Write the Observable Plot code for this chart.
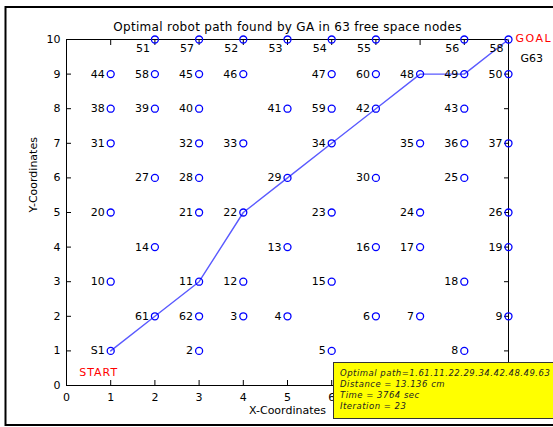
<!DOCTYPE html>
<html>
<head>
<meta charset="utf-8">
<script src="https://cdn.jsdelivr.net/npm/d3@7"></script>
<script src="https://cdn.jsdelivr.net/npm/@observablehq/plot@0.6"></script>
<style>
  html, body { margin: 0; padding: 0; background: white; }
  #chart svg { display: block; }
</style>
</head>
<body>
<div id="chart"></div>
<script>
// ---- data ----
const nodeX = [1,3,4,5,6,7,8,9,10,1, 3,4,5,2,6,7,8,9,10,1, 3,4,6,8,9,10,2,3,5,7, 1,3,4,6,8,9,10,1,2,3, 5,7,9,1,3,4,6,8,9,10, 2,4,5,6,7,9,3,2,6,7, 2,3,10];
const nodeY = [1,1,2,2,1,2,2,1,2,3, 3,3,4,4,3,4,4,3,4,5, 5,5,5,5,6,5,6,6,6,6, 7,7,7,7,7,7,7,8,8,8, 8,8,8,9,9,9,9,9,9,9, 10,10,10,10,10,10,10,9,8,9, 2,2,10];
const nodeLabels = ["S1","2","3","4","5","6","7","8","9","10","11","12","13","14","15","16","17","18","19","20",
  "21","22","23","24","25","26","27","28","29","30","31","32","33","34","35","36","37","38","39","40",
  "41","42","43","44","45","46","47","48","49","50","51","52","53","54","55","56","57","58","59","60",
  "61","62","58"];
const pathIds = [1,61,11,22,29,34,42,48,49,63];
const xTicks = [0,1,2,3,4,5,6,7,8,9,10];
const xTickLabels = [0,1,2,3,4,5,6]; // 7–10 are hidden under the annotation box
const yTicks = [0,1,2,3,4,5,6,7,8,9,10];
const titleText = "Optimal robot path found by GA in 63 free space nodes";
const xLabel = "X-Coordinates";
const yLabel = "Y-Coordinates";
const startText = "START";
const goalText = "GOAL";
const goalId = "G63";
const infoLines = [
  "Optimal path=1.61.11.22.29.34.42.48.49.63",
  "Distance = 13.136 cm",
  "Time = 3764 sec",
  "Iteration = 23"
];

// ---- build ----
const nodes = nodeX.map((x, i) => ({x, y: nodeY[i], label: nodeLabels[i], id: i + 1}));
const pathNodes = pathIds.map(id => nodes[id - 1]);
const topRow = nodes.filter(d => d.y === 10);
const otherRows = nodes.filter(d => d.y !== 10);
const startNode = [nodes[0]];
const goalNode = [nodes[62]];

const font = "DejaVu Sans";

const chart = Plot.plot({
  width: 553,
  height: 427,
  marginLeft: 66,
  marginRight: 45,
  marginTop: 39,
  marginBottom: 42,
  x: {domain: [0, 10]},
  y: {domain: [0, 10]},
  style: {fontFamily: font, fontSize: "11px", background: "white", color: "black", overflow: "visible"},
  marks: [
    Plot.axisX(xTicks, {anchor: "bottom", tickSize: -5, text: null, label: null}),
    Plot.axisX(xTickLabels, {anchor: "bottom", tickSize: 0, tickPadding: 8, label: null, fontSize: 11}),
    Plot.axisX(xTicks, {anchor: "top", tickSize: -5, text: null, label: null}),
    Plot.axisY(yTicks, {anchor: "left", tickSize: -5, tickPadding: 11, label: null, fontSize: 11}),
    Plot.axisY(yTicks, {anchor: "right", tickSize: -5, text: null, label: null}),
    Plot.frame({stroke: "black", strokeWidth: 1}),
    Plot.line(pathNodes, {x: "x", y: "y", stroke: "#5a5aff", strokeWidth: 1.4}),
    Plot.dot(nodes, {x: "x", y: "y", r: 3.5, stroke: "#0000ff", strokeWidth: 1.3, fill: "none"}),
    Plot.text(otherRows, {x: "x", y: "y", text: "label", textAnchor: "end", dx: -6, dy: 0, fontSize: 11, fill: "black"}),
    Plot.text(topRow, {x: "x", y: "y", text: "label", textAnchor: "end", dx: -5, dy: 9, fontSize: 11, fill: "black"}),
    Plot.text(startNode, {x: "x", y: "y", text: () => startText, dx: -12, dy: 22, fill: "red", fontSize: 11}),
    Plot.text(goalNode, {x: "x", y: "y", text: () => goalText, textAnchor: "start", dx: 7, dy: -1, fill: "red", fontSize: 11}),
    Plot.text(goalNode, {x: "x", y: "y", text: () => goalId, textAnchor: "start", dx: 12, dy: 19, fill: "black", fontSize: 11}),
    Plot.text([titleText], {text: d => d, frameAnchor: "top", dy: -17, fontSize: 12, fill: "black"}),
    Plot.text([xLabel], {text: d => d, frameAnchor: "bottom", dy: 28, fontSize: 11, fill: "black"}),
    Plot.text([yLabel], {text: d => d, frameAnchor: "left", dx: -33, rotate: -90, fontSize: 11, fill: "black"})
  ]
});

const svg = d3.select(chart);
// letter spacing tweaks for MATLAB-like rendering
svg.selectAll("text").filter(function() { return this.textContent === titleText; }).attr("letter-spacing", 0.3);
svg.selectAll("text").filter(function() { return this.textContent === startText; }).attr("letter-spacing", 1);
svg.selectAll("text").filter(function() { return this.textContent === goalText; }).attr("letter-spacing", 1.5);

// annotation text box
const box = svg.append("g").attr("text-anchor", "start");
box.append("rect")
  .attr("x", 333.5).attr("y", 362.5).attr("width", 225).attr("height", 56)
  .attr("fill", "#ffff00").attr("stroke", "#333").attr("stroke-width", 1);
box.selectAll("text.info").data(infoLines).join("text")
  .attr("class", "info")
  .attr("x", 340)
  .attr("y", (d, i) => 375.5 + i * 11.2)
  .attr("text-anchor", "start")
  .attr("font-family", font)
  .attr("font-style", "italic")
  .attr("font-size", 8.5)
  .attr("letter-spacing", 0.5)
  .attr("fill", "#222")
  .text(d => d);

// outer figure border
svg.append("path")
  .attr("d", "M553,7H5.5V425H553")
  .attr("fill", "none").attr("stroke", "black").attr("stroke-width", 2);

document.getElementById("chart").appendChild(chart);
</script>
</body>
</html>
